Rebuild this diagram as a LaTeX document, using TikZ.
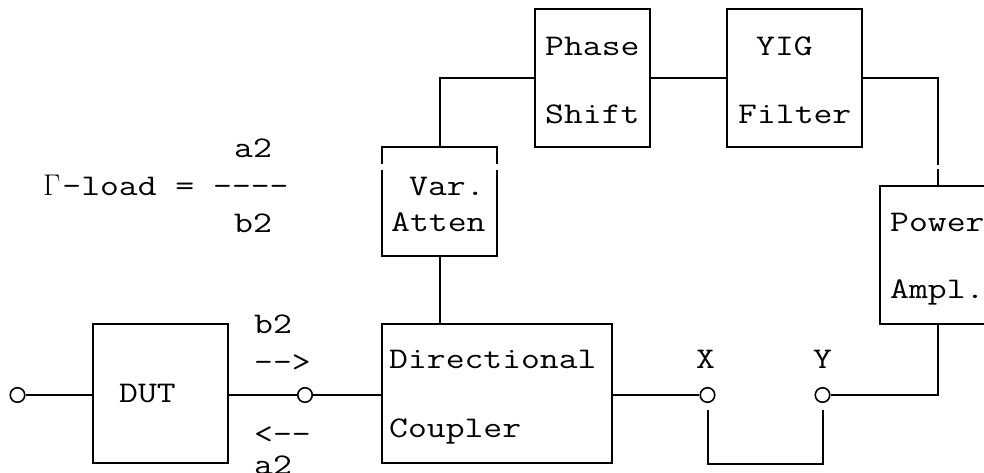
\documentclass[tikz,border=0pt]{standalone}
\usepackage{graphicx}
\newcommand{\mono}[1]{\scalebox{1.22}[1]{\ttfamily\fontsize{30}{36}\selectfont #1}}
\newcommand{\bigGamma}{\makebox[0.525em][l]{\scalebox{0.82}[1]{\rmfamily Γ}}}
\begin{document}
\begin{tikzpicture}[x=1pt,y=-1pt,
  wire/.style={line width=2pt,line join=miter},
  blk/.style={draw,line width=2pt,rectangle,inner sep=0pt},
  port/.style={draw,circle,line width=1.6pt,minimum size=14.5pt,inner sep=0pt},
  txt/.style={anchor=base west,inner sep=0pt}]
\useasboundingbox (0,0) rectangle (984,472);
\clip (0,0) rectangle (984,472);
% blocks
\node[blk,minimum width=135pt,minimum height=139pt] (dut) at (160.5,393.5) {};
\node[blk,minimum width=230pt,minimum height=139pt] (coup) at (497,393.5) {};
\node[rectangle,inner sep=0pt,minimum width=115pt,minimum height=109pt] (var) at (439.5,201.5) {};
\node[blk,minimum width=115pt,minimum height=138pt] (phase) at (592.5,78) {};
\node[blk,minimum width=135pt,minimum height=138pt] (yig) at (794.5,78) {};
\node[blk,minimum width=116pt,minimum height=138pt] (power) at (938,255) {};
% var box with breaks in its sides
\draw[wire] (var.west |- 0,164) -- (var.north west) -- (var.north east) -- (var.east |- 0,164);
\draw[wire] (var.east |- 0,169.5) -- (var.south east) -- (var.south west) -- (var.west |- 0,169.5);
% ports
\node[port] (pL) at (17.5,395) {};
\node[port] (pM) at (305,395) {};
\node[port] (pX) at (707.5,395) {};
\node[port] (pY) at (822.5,395) {};
\coordinate (gapT) at (938,165);
\coordinate (gapB) at (938,168.5);
\coordinate (xl) at (707.5,410);
\coordinate (yl) at (822.5,410);
% connectors
\draw[wire] (pL) -- (pL -| dut.west);
\draw[wire] (dut.east |- pM) -- (pM);
\draw[wire] (pM) -- (pM -| coup.west);
\draw[wire] (coup.east |- pX) -- (pX);
\draw[wire] (pY) -| (power.south);
\draw[wire] (power.north) -- (gapB);
\draw[wire] (yig.east) -| (gapT);
\draw[wire] (phase.east) -- (yig.west);
\draw[wire] (phase.west) -| (var.north);
\draw[wire] (var.south) -- (var.south |- coup.north);
\draw[wire] (xl) -- (xl |- coup.south) -| (yl);
% texts
\node[txt] (t1) at (545,55) {\mono{Phase}};
\node[txt] (t2) at (545,123) {\mono{Shift}};
\node[txt] (t3) at (756,55) {\mono{YIG}};
\node[txt] (t4) at (738,123) {\mono{Filter}};
\node[txt] (t5) at (409,195) {\mono{Var.}};
\node[txt] (t6) at (391,231) {\mono{Atten}};
\node[txt] (t7) at (43,195) {\mono{\bigGamma-{}load = -{}-{}-{}-}};
\node[txt] (t8) at (234,157) {\mono{a2}};
\node[txt] (t9) at (234,232) {\mono{b2}};
\node[txt] (t10) at (119,402) {\mono{DUT}};
\node[txt] (t11) at (254,333) {\mono{b2}};
\node[txt] (t12) at (254,371) {\mono{-{}->}};
\node[txt] (t13) at (254,443) {\mono{<-{}-}};
\node[txt] (t14) at (254,474) {\mono{a2}};
\node[txt] (t15) at (389,368) {\mono{Directional}};
\node[txt] (t16) at (389,437) {\mono{Coupler}};
\node[txt] (t17) at (696,368) {\mono{X}};
\node[txt] (t18) at (813,368) {\mono{Y}};
\node[txt] (t19) at (890,231) {\mono{Power}};
\node[txt] (t20) at (890,298) {\mono{Ampl.}};
\end{tikzpicture}
\end{document}
